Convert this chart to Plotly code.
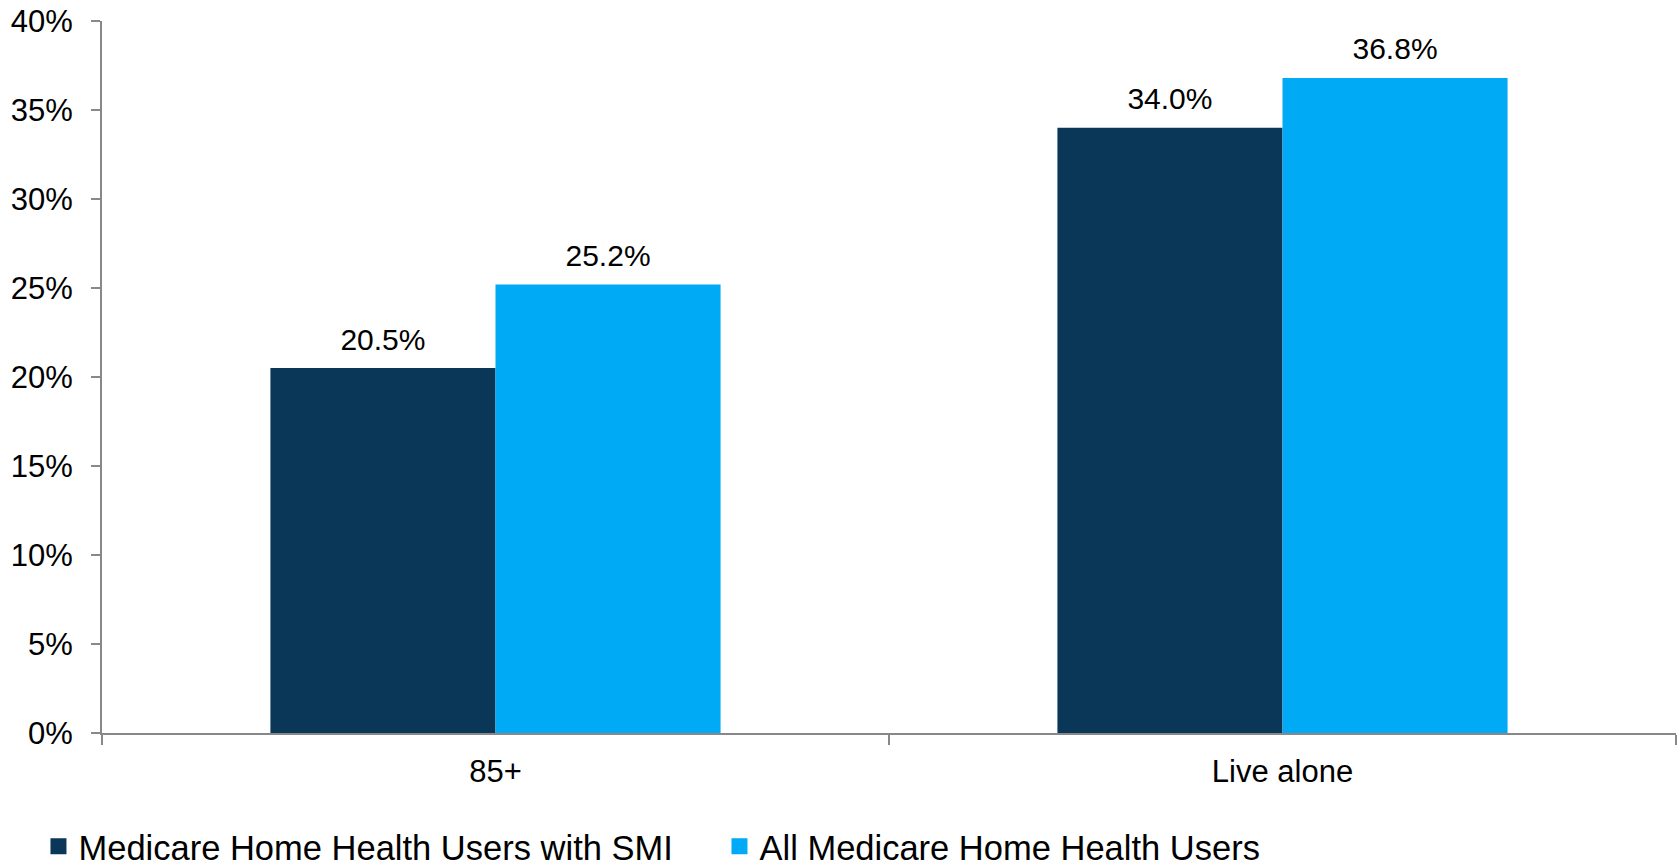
import plotly.graph_objects as go

categories = ["85+", "Live alone"]
series_names = ["Medicare Home Health Users with SMI", "All Medicare Home Health Users"]
smi_values = [20.5, 34.0]
all_values = [25.2, 36.8]
colors = ["#0A3757", "#00AAF5"]
y_tickvals = [0, 5, 10, 15, 20, 25, 30, 35, 40]
y_ticktext = ["0%", "5%", "10%", "15%", "20%", "25%", "30%", "35%", "40%"]

FONT = "Liberation Sans, Arial, sans-serif"
FS = 31

fig = go.Figure()
for i, (name, vals, col) in enumerate(zip(series_names, [smi_values, all_values], colors)):
    fig.add_trace(go.Bar(
        x=categories, y=vals, name=name, showlegend=False,
        offsetgroup=str(i), alignmentgroup="a",
        marker=dict(color=col, line=dict(width=0)),
    ))
for i, (name, vals, col) in enumerate(zip(series_names, [smi_values, all_values], colors)):
    fig.add_trace(go.Scatter(
        x=categories, y=vals, mode="markers+text", showlegend=False,
        offsetgroup=str(i), alignmentgroup="a",
        marker=dict(size=16, opacity=0, color=col),
        text=[f"{v:.1f}%" for v in vals], textposition="top center",
        textfont=dict(family=FONT, size=30, color="#000"),
        cliponaxis=False, hoverinfo="skip",
    ))
for name, col in zip(series_names, colors):
    fig.add_trace(go.Scatter(
        x=[None], y=[None], mode="markers", name=name,
        marker=dict(symbol="square", size=17, color=col),
    ))

fig.update_layout(
    width=1680, height=867,
    margin=dict(l=102, r=4, t=21, b=134, autoexpand=False),
    paper_bgcolor="white", plot_bgcolor="white",
    barmode="group", bargap=0.428, bargroupgap=0,
    scattermode="group", scattergap=0.428,
    font=dict(family=FONT, size=FS, color="#000"),
    showlegend=True,
    legend=dict(orientation="h", xref="container", yref="container",
                x=0.0229, y=0.0238, xanchor="left", yanchor="middle",
                entrywidth=636, entrywidthmode="pixels",
                font=dict(family=FONT, size=34.5, color="#000"),
                traceorder="normal"),
)
fig.update_yaxes(range=[0, 40], tickvals=y_tickvals, ticktext=y_ticktext,
                 automargin=False, ticklabeloverflow="allow",
                 showgrid=False, zeroline=False, showline=True,
                 linecolor="#888", linewidth=2, ticks="outside", ticklen=9,
                 tickcolor="#888", tickwidth=2, ticklabelstandoff=12)
fig.update_xaxes(automargin=False, showgrid=False, showline=True, linecolor="#888", linewidth=2,
                 ticks="outside", tickson="boundaries", ticklen=10,
                 tickcolor="#888", tickwidth=2, ticklabelstandoff=10)

fig.write_html("out.html", config={"displayModeBar": False},
               post_script="document.body.style.margin='0';")
